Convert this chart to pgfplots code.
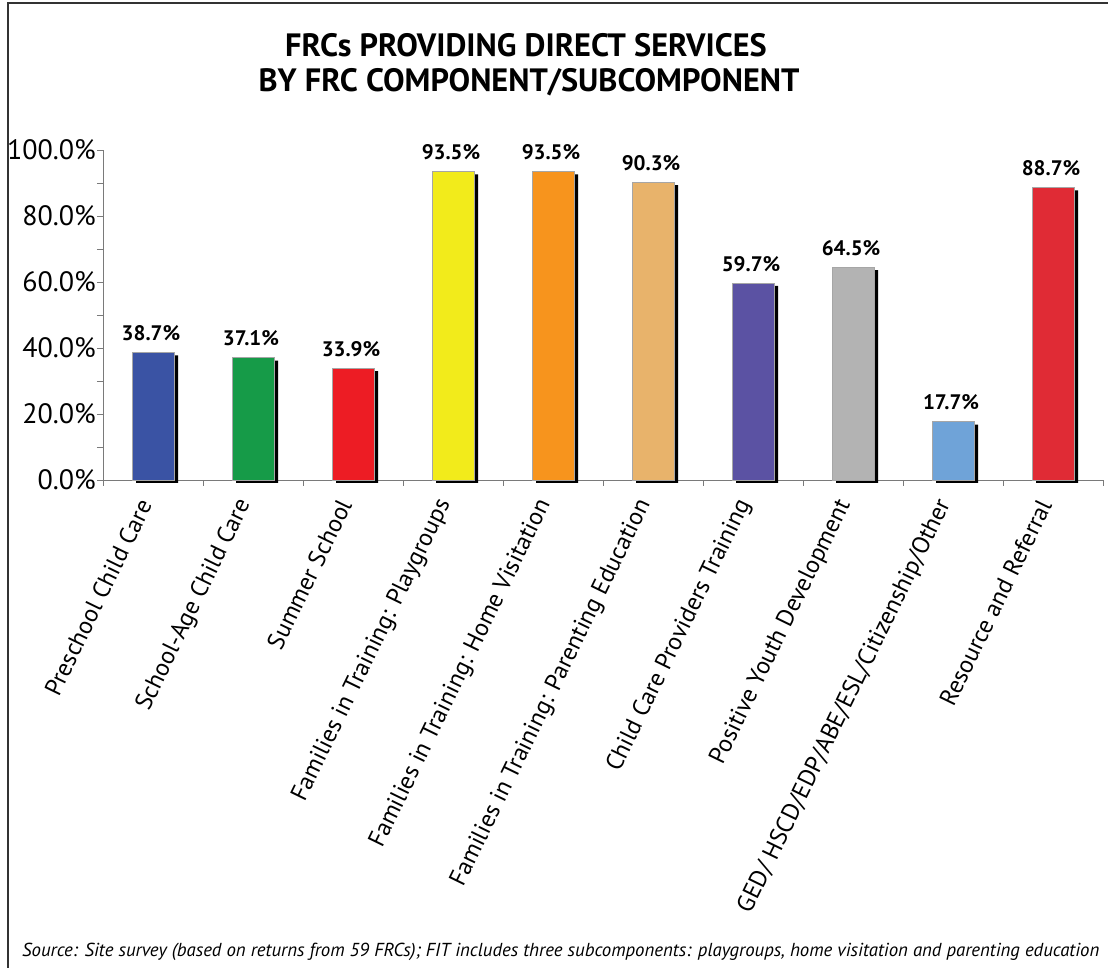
\documentclass[border=0pt]{standalone}
\usepackage{fontspec}
\setmainfont{PT Sans}
\usepackage{pgfplots}
\pgfplotsset{compat=1.18}

\definecolor{axisgray}{HTML}{7A7A7A}
\definecolor{c1}{HTML}{3A53A4}
\definecolor{c2}{HTML}{169B48}
\definecolor{c3}{HTML}{ED1C24}
\definecolor{c4}{HTML}{F2EB1B}
\definecolor{c5}{HTML}{F7941D}
\definecolor{c6}{HTML}{E8B36B}
\definecolor{c7}{HTML}{5B52A3}
\definecolor{c8}{HTML}{B3B3B3}
\definecolor{c9}{HTML}{6FA3D8}
\definecolor{c10}{HTML}{E02B35}

\pgfplotsset{
  frcbar/.style={
    ybar, bar width=42pt, bar shift=0pt,
    draw=gray!70, line width=0.6pt, fill=#1,
    nodes near coords={\pgfmathprintnumber[fixed,fixed zerofill,precision=1]{\pgfplotspointmeta}\%},
    nodes near coords style={font=\bfseries\fontsize{21}{21}\selectfont, anchor=south, yshift=8pt, xshift=-2pt},
  }
}

\begin{document}
\begin{tikzpicture}
  \path[use as bounding box] (0,0) rectangle (1108pt,968pt);
  % frame
  \draw[line width=1.5pt, black!80] (8pt,0) -- (8pt,965pt) -- (1108pt,965pt);

  \node[font=\bfseries\fontsize{32.3}{32.3}\selectfont] at (526pt,923pt) {FRCs PROVIDING DIRECT SERVICES};
  \node[font=\bfseries\fontsize{32.3}{32.3}\selectfont] at (529pt,886pt) {BY FRC COMPONENT/SUBCOMPONENT};

  \begin{axis}[
    at={(103pt,488pt)}, anchor=south west,
    scale only axis, width=1000pt, height=330pt,
    xmin=-0.5, xmax=9.5, ymin=0, ymax=100,
    axis x line*=bottom, axis y line*=left,
    axis line style={draw=axisgray, line width=0.8pt},
    every tick/.style={draw=axisgray, line width=0.8pt},
    tick align=outside, major tick length=6pt, minor tick length=6pt,
    ytick={0,20,40,60,80,100}, minor ytick={10,30,50,70,90},
    yticklabel={\pgfmathprintnumber[fixed,fixed zerofill,precision=1]{\tick}\%},
    yticklabel style={font=\fontsize{28}{28}\selectfont, inner sep=0pt, xshift=-1pt},
    xtick={0,...,9},
    major x tick style={draw=none},
    minor xtick={-0.5,0.5,...,9.5},
    xticklabels={Preschool Child Care, School-Age Child Care, Summer School,
      Families in Training: Playgroups, Families in Training: Home Visitation,
      Families in Training: Parenting Education, Child Care Providers Training,
      Positive Youth Development, GED/ HSCD/EDP/ABE/ESL/Citizenship/Other,
      Resource and Referral},
    xticklabel style={font=\fontsize{24.3}{24.3}\selectfont, xshift=-8pt, yshift=-15pt, rotate=64, anchor=east, inner sep=0pt},
    /pgf/number format/assume math mode=true,
    clip=false,
  ]
    % drop shadows
    \addplot[ybar, bar width=42pt, bar shift=4pt, yshift=-3pt, fill=black, draw=none]
      coordinates {(0,38.7) (1,37.1) (2,33.9) (3,93.5) (4,93.5) (5,90.3) (6,59.7) (7,64.5) (8,17.7) (9,88.7)};
    % bars
    \addplot[frcbar=c1] coordinates {(0,38.7)};
    \addplot[frcbar=c2] coordinates {(1,37.1)};
    \addplot[frcbar=c3] coordinates {(2,33.9)};
    \addplot[frcbar=c4] coordinates {(3,93.5)};
    \addplot[frcbar=c5] coordinates {(4,93.5)};
    \addplot[frcbar=c6] coordinates {(5,90.3)};
    \addplot[frcbar=c7] coordinates {(6,59.7)};
    \addplot[frcbar=c8] coordinates {(7,64.5)};
    \addplot[frcbar=c9] coordinates {(8,17.7)};
    \addplot[frcbar=c10] coordinates {(9,88.7)};
  \end{axis}

  \node[anchor=west, font=\itshape\fontsize{18.8}{18.8}\selectfont, inner sep=0pt] at (22pt,16pt)
    {Source: Site survey (based on returns from 59 FRCs); FIT includes three subcomponents: playgroups, home visitation and parenting education};
\end{tikzpicture}
\end{document}
